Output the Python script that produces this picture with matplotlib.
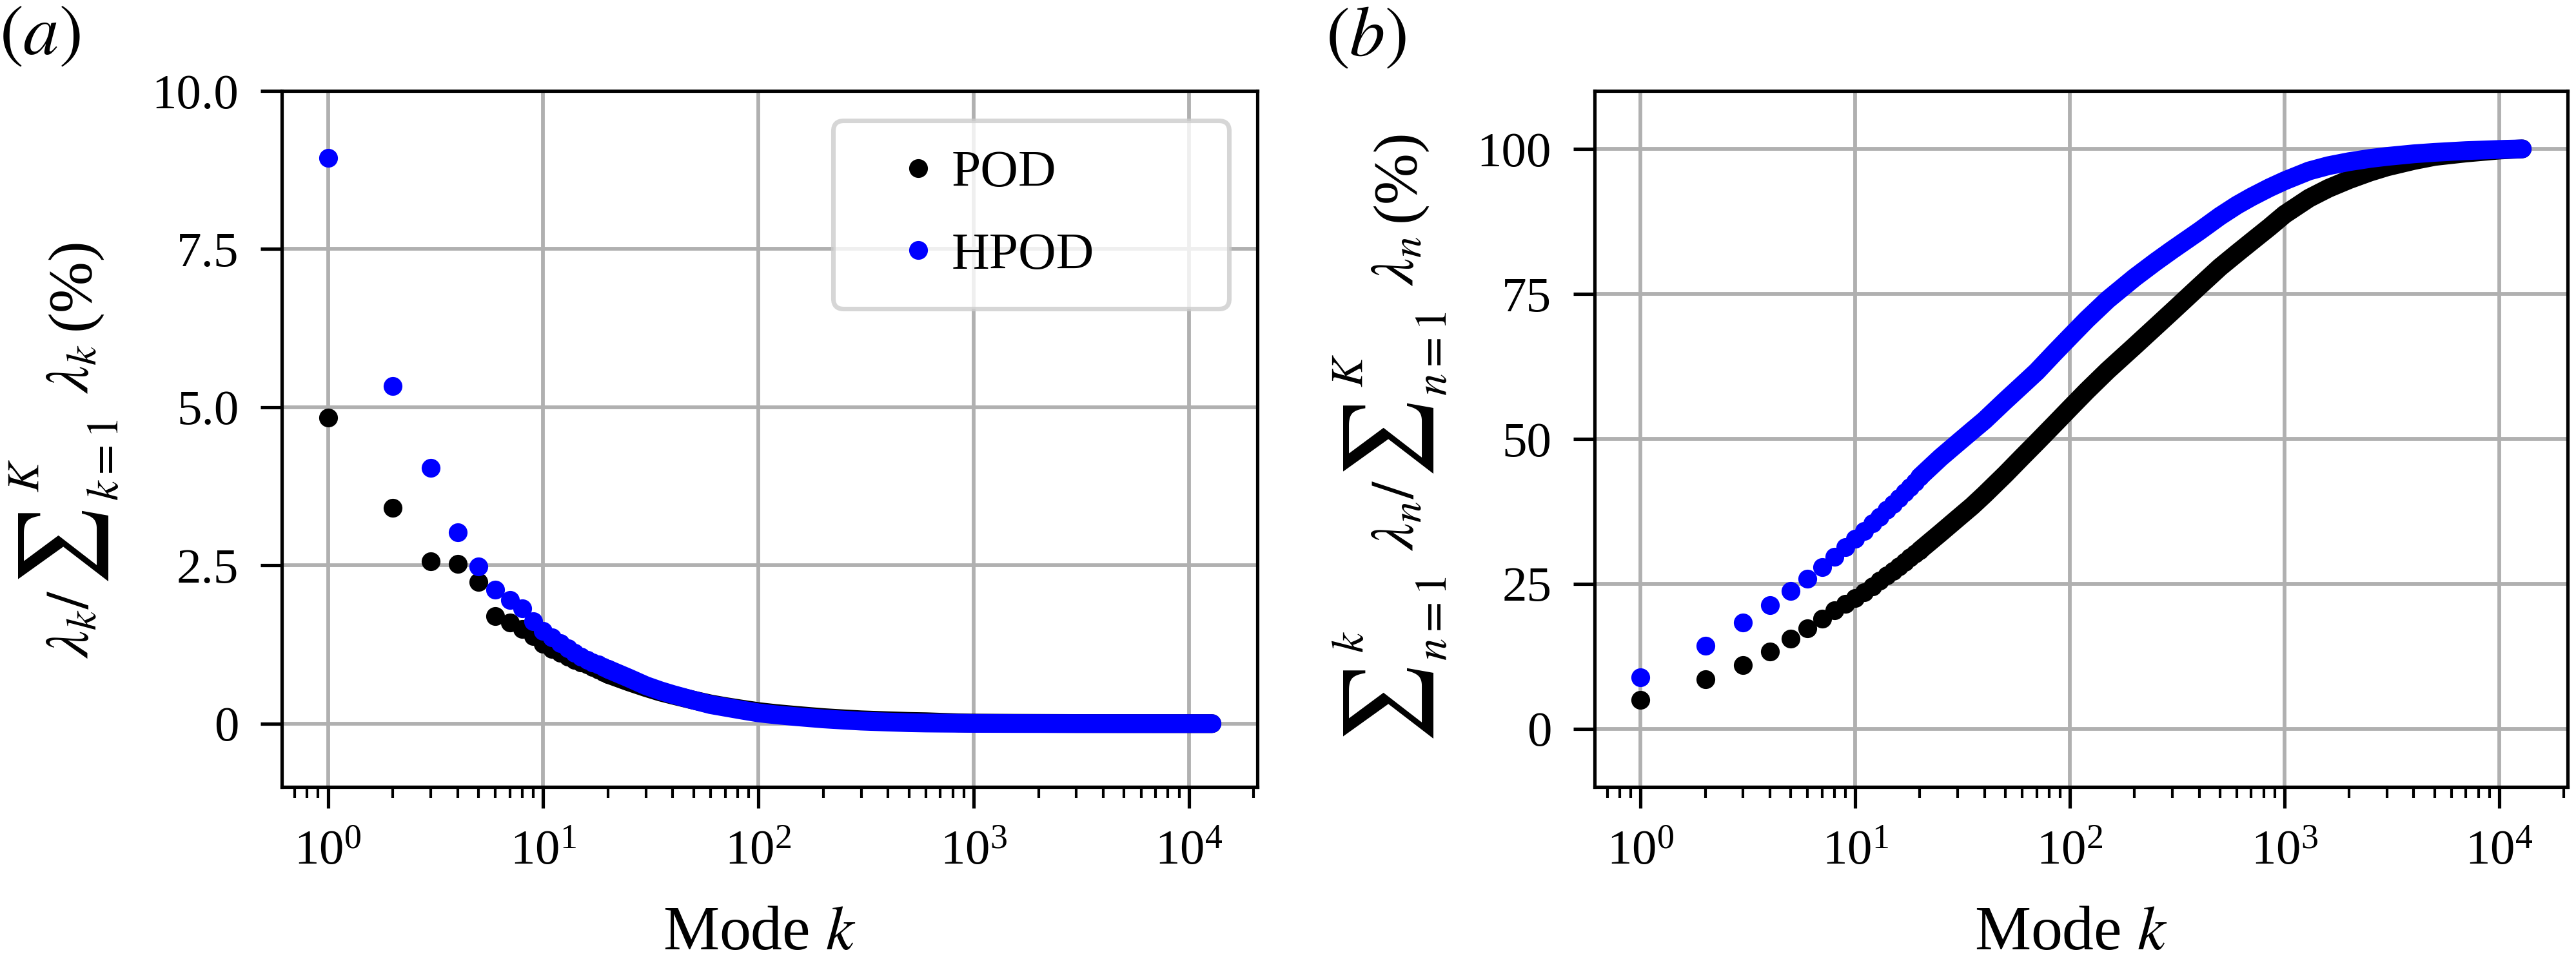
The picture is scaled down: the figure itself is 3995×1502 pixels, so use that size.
import matplotlib
matplotlib.use("Agg")
import matplotlib.pyplot as plt
from matplotlib.font_manager import FontProperties
from matplotlib.textpath import TextPath


# mode numbers shown as separate dots
modes_sparse = list(range(1, 21))
# mode numbers along the dense part of the curves
modes_dense = [20, 25, 30, 35, 40, 50, 60, 70, 85, 100, 120, 150, 200, 250, 300,
               400, 500, 600, 700, 850, 1000, 1300, 1600, 2000, 2500, 3000,
               4000, 5000, 7000, 10000, 12800]

# (a) single-mode energy fraction (%)
pod_eig_sparse = [4.84, 3.41, 2.56, 2.52, 2.24, 1.70, 1.60, 1.50, 1.38, 1.26,
                  1.18, 1.12, 1.06, 1.01, 0.97, 0.93, 0.89, 0.85, 0.81, 0.78]
hpod_eig_sparse = [8.94, 5.34, 4.04, 3.02, 2.48, 2.12, 1.95, 1.82, 1.62, 1.46,
                   1.36, 1.27, 1.19, 1.12, 1.06, 1.01, 0.97, 0.93, 0.89, 0.86]
pod_eig_dense = [0.78, 0.66, 0.57, 0.50, 0.45, 0.37, 0.31, 0.27, 0.225, 0.19,
                 0.16, 0.13, 0.095, 0.075, 0.06, 0.045, 0.035, 0.03, 0.022,
                 0.012, 0.008, 0.006, 0.005, 0.004, 0.003, 0.002, 0.0015,
                 0.001, 0.0006, 0.0003, 0.0]
hpod_eig_dense = [0.86, 0.72, 0.60, 0.52, 0.46, 0.37, 0.30, 0.26, 0.21, 0.17,
                  0.14, 0.11, 0.075, 0.055, 0.04, 0.025, 0.015, 0.01, 0.008,
                  0.006, 0.004, 0.003, 0.002, 0.0015, 0.001, 0.0008, 0.0005,
                  0.0003, 0.0002, 0.0001, 0.0]

# (b) cumulative energy fraction (%)
pod_cum_sparse = [5.03, 8.5, 10.95, 13.35, 15.5, 17.3, 19.0, 20.45, 21.6, 22.5,
                  23.6, 24.6, 25.5, 26.4, 27.2, 28.0, 28.8, 29.5, 30.2, 30.8]
hpod_cum_sparse = [8.94, 14.28, 18.32, 21.34, 23.82, 25.94, 27.89, 29.71, 31.33,
                   32.79, 34.15, 35.42, 36.61, 37.73, 38.79, 39.80, 40.77,
                   41.70, 42.59, 43.45]
pod_cum_dense = [30.8, 33.8, 36.3, 38.4, 40.4, 43.9, 46.9, 49.4, 52.6, 55.3,
                 58.3, 61.8, 66.0, 69.3, 72.0, 76.3, 79.6, 82.0, 84.0, 86.5,
                 88.7, 91.5, 93.2, 94.7, 96.0, 96.9, 98.0, 98.7, 99.3, 99.8,
                 100.0]
hpod_cum_dense = [43.45, 46.8, 49.3, 51.4, 53.2, 56.6, 59.3, 61.6, 64.9, 67.6,
                  70.6, 74.0, 77.8, 80.5, 82.6, 85.8, 88.4, 90.3, 91.7, 93.3,
                  94.5, 96.2, 97.1, 97.8, 98.35, 98.7, 99.15, 99.4, 99.7, 99.9,
                  100.0]

POD_COLOR = "black"
HPOD_COLOR = "#0000ff"
MS = 7.0
SUM = r"$\sum$"


def configure_fonts() -> None:
    plt.rcParams["font.family"] = "serif"
    plt.rcParams["font.serif"] = ["Liberation Serif", "DejaVu Serif"]
    plt.rcParams["mathtext.fontset"] = "stix"
    plt.rcParams["axes.unicode_minus"] = False


def ink_box(s, size):
    prop = FontProperties(family="serif", size=size)
    return TextPath((0, 0), s, prop=prop).get_extents()


def sum_size(target_px, dpi):
    # font size that gives the summation sign the wanted ink height
    h = ink_box(SUM, 100).height
    return target_px * 72.0 / dpi * 100 / h


def draw_ylabel(fig, items, base_x, center_y):
    """Rotated label built from pieces (big sums with side limits);
    base_x / center_y, offsets and gaps are in output pixels."""
    W, H = fig.bbox.width, fig.bbox.height
    px = fig.dpi / 72.0
    placed = []
    cursor = 0.0

    def start_of(s, e, at):
        # math text is laid out from its pen origin, plain text from its ink
        return at - e.x0 * px if s.startswith("$") else at

    for it in items:
        kind = it[0]
        if kind == "lim":
            _, sup, sub, size, sup_c, sub_c, gap_sup, gap_sub = it
            ends = []
            for s, fs, c, g in ((sup, size, sup_c, gap_sup),
                                (sub, size / 0.7, sub_c, gap_sub)):
                e = ink_box(s, fs)
                u0 = start_of(s, e, cursor + g)
                rz = c - 0.5 * (e.y0 + e.y1) * px
                placed.append((s, fs, u0, rz))
                ends.append(cursor + g + e.width * px)
            cursor = max(ends)
        elif kind == "sum":
            _, size, c, gap, slot = it
            e = ink_box(SUM, size)
            begin = cursor + gap + 0.5 * (slot - e.width * px)
            u0 = start_of(SUM, e, begin)
            rz = c - 0.5 * (e.y0 + e.y1) * px
            placed.append((SUM, size, u0, rz))
            cursor = cursor + gap + slot
        else:
            _, s, size, gap = it
            e = ink_box(s, size)
            u0 = start_of(s, e, cursor + gap)
            placed.append((s, size, u0, 0.0))
            cursor = cursor + gap + e.width * px
    y_start = (H - center_y) - cursor / 2.0
    for s, size, u0, rz in placed:
        fig.text((base_x - rz) / W, (y_start + u0) / H, s, fontsize=size,
                 rotation=90, rotation_mode="anchor", ha="left",
                 va="baseline")


def draw_series(ax, sparse_y_pod, dense_y_pod, sparse_y_hpod, dense_y_hpod):
    handles = []
    for color, label, ys, yd in [
        (POD_COLOR, "POD", sparse_y_pod, dense_y_pod),
        (HPOD_COLOR, "HPOD", sparse_y_hpod, dense_y_hpod),
    ]:
        (h,) = ax.plot(modes_sparse, ys, ls="none", marker="o", ms=MS,
                       mew=0, color=color, label=label, zorder=3)
        ax.plot(modes_dense, yd, ls="-", lw=MS, color=color,
                solid_capstyle="round", solid_joinstyle="round", zorder=3)
        handles.append(h)
    return handles


def style_axes(ax):
    ax.set_xscale("log")
    ax.set_xlim(0.61, 20800)
    ax.grid(True, which="major", color="#b0b0b0", lw=1.4, zorder=0)
    ax.set_axisbelow(True)
    for s in ax.spines.values():
        s.set_linewidth(1.25)
    ax.tick_params(which="major", direction="out", length=8, width=1.25,
                   labelsize=18.5, pad=8)
    ax.tick_params(which="minor", direction="out", length=4, width=1.0)
    ax.set_xlabel("Mode $k$", fontsize=23.5)
    ax.xaxis.set_label_coords(0.49, -0.170)


def make_chart() -> None:
    configure_fonts()
    fig = plt.figure(figsize=(3995 / 300, 1502 / 300), dpi=300)
    ax1 = fig.add_axes([0.1094, 0.1871, 0.3787, 0.7190])
    ax2 = fig.add_axes([0.6190, 0.1871, 0.3777, 0.7190])

    handles = draw_series(ax1, pod_eig_sparse, pod_eig_dense,
                          hpod_eig_sparse, hpod_eig_dense)
    style_axes(ax1)
    ax1.set_ylim(-1, 10)
    ax1.set_yticks([0, 2.5, 5.0, 7.5, 10.0])
    ax1.set_yticklabels(["0", "2.5", "5.0", "7.5", "10.0"])

    leg = ax1.legend(handles=handles, loc="upper left",
                     bbox_to_anchor=(0.565, 0.6873, 0.406, 0.270),
                     mode="expand", borderaxespad=0, fontsize=19.5,
                     borderpad=0.556, labelspacing=0.66, handlelength=2.14,
                     handletextpad=-0.44, fancybox=True, framealpha=0.8,
                     edgecolor="0.8")
    leg.get_frame().set_linewidth(1.7)

    draw_series(ax2, pod_cum_sparse, pod_cum_dense,
                hpod_cum_sparse, hpod_cum_dense)
    style_axes(ax2)
    ax2.set_ylim(-10, 110)
    ax2.set_yticks([0, 25, 50, 75, 100])

    big = sum_size(140, fig.dpi)
    label_a = [
        ("t", r"$\lambda_k/$", 22.5, 0),
        ("sum", big, 38.5, -12, 167),
        ("lim", r"$K$", r"${}_{k=1}$", 16.5, 100.5, -23, 0, -12),
        ("t", r"$\lambda_k$", 22.5, 40),
        ("t", "(%)", 23, 26),
    ]
    label_b = [
        ("sum", big, 38, 0, 160),
        ("lim", r"$k$", r"${}_{n=1}$", 16.5, 102, -28, 0, -12),
        ("t", r"$\lambda_n/$", 22.5, 40),
        ("sum", big, 38, -12, 160),
        ("lim", r"$K$", r"${}_{n=1}$", 16.5, 102, -28, 0, -12),
        ("t", r"$\lambda_n$", 22.5, 40),
        ("t", "(%)", 23, 26),
    ]
    draw_ylabel(fig, label_a, 137, 700)
    draw_ylabel(fig, label_b, 2192, 690)

    fig.text(62 / 3995, 1 - 58 / 1502, r"$(a)$", fontsize=26.5,
             ha="center", va="center")
    fig.text(2119 / 3995, 1 - 60 / 1502, r"$(b)$", fontsize=26.5,
             ha="center", va="center")

    fig.savefig("out.png", dpi=300)
    plt.close(fig)


if __name__ == "__main__":
    make_chart()
